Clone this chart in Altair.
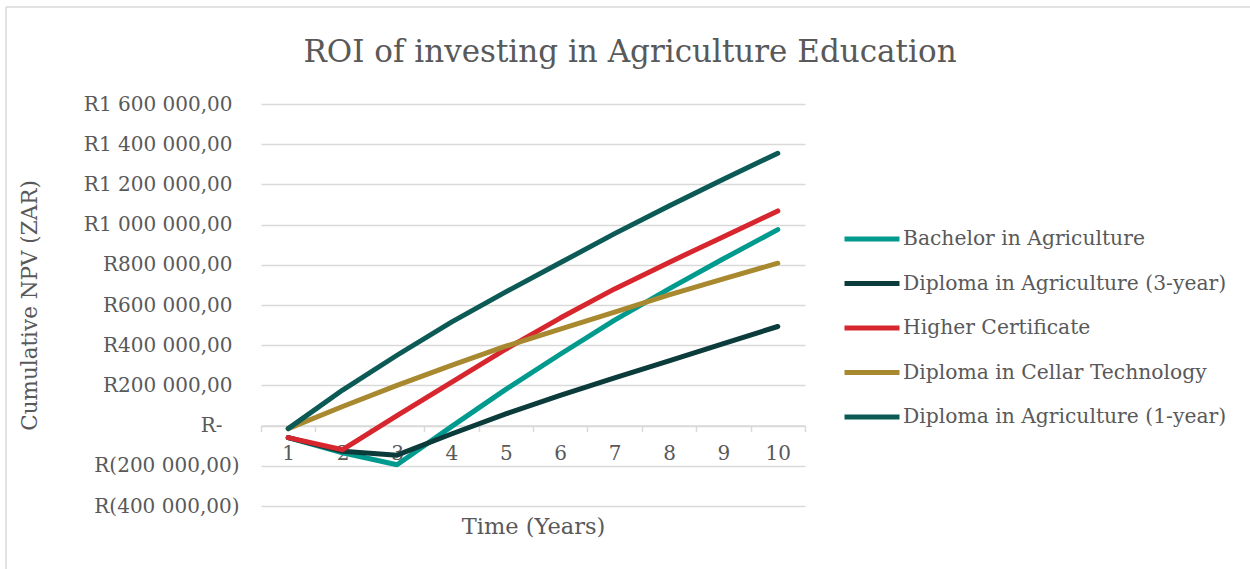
import altair as alt
import pandas as pd

years = list(range(1, 11))
series_names = [
    "Bachelor in Agriculture",
    "Diploma in Agriculture (3-year)",
    "Higher Certificate",
    "Diploma in Cellar Technology",
    "Diploma in Agriculture (1-year)",
]
series_colors = ["#009A8E", "#0B3B3A", "#D7262E", "#A8892F", "#0B5A55"]

bachelor = [-60000, -135000, -195000, -5000, 180000, 355000, 525000, 680000, 830000, 975000]
diploma_3yr = [-60000, -128000, -147000, -42000, 58000, 150000, 237000, 322000, 408000, 493000]
higher_cert = [-60000, -120000, 50000, 215000, 380000, 535000, 680000, 812000, 940000, 1068000]
cellar_tech = [-15000, 95000, 200000, 300000, 395000, 480000, 565000, 650000, 730000, 808000]
diploma_1yr = [-15000, 177000, 350000, 515000, 665000, 810000, 955000, 1093000, 1226000, 1355000]

y_ticks = [-400000, -200000, 0, 200000, 400000, 600000, 800000, 1000000, 1200000, 1400000, 1600000]

series_values = [bachelor, diploma_3yr, higher_cert, cellar_tech, diploma_1yr]
rows = []
for name, vals in zip(series_names, series_values):
    for yr, v in zip(years, vals):
        rows.append({"Year": yr, "Series": name, "NPV": v})
df = pd.DataFrame(rows)

GREY = "#595959"
GRID = "#d9d9d9"
FONT = "DejaVu Serif"

fmt = "replace(replace(format({v}, ',.2f'), regexp(',', 'g'), ' '), '.', ',')"
label_expr = (
    "datum.value == 0 ? 'R-' : (datum.value < 0 ? 'R(' + "
    + fmt.format(v="-datum.value")
    + " + ')' : 'R' + "
    + fmt.format(v="datum.value")
    + ")"
)

W, H = 544, 402
zero_offset = -(H - H * 1600000 / 2000000)

x_axis = alt.Axis(
    title="Time (Years)", labelAngle=0, labelFontSize=20, labelColor=GREY,
    labelFont=FONT, tickColor=GRID, tickSize=6, tickWidth=1.5, tickBand="extent",
    domainColor=GRID, domainWidth=1.5, grid=False, labelPadding=12,
    offset=zero_offset, titleFontSize=22.5, titleColor=GREY, titleFont=FONT,
    titleFontWeight="normal", titleY=101, titleBaseline="middle",
)
y_axis = alt.Axis(
    values=y_ticks, labelExpr=label_expr, labelFontSize=20, labelColor=GREY,
    labelFont=FONT, ticks=False, domain=False, grid=True,
    labelPadding={"condition": [{"test": "datum.value > 0", "value": 29},
                                {"test": "datum.value == 0", "value": 39}],
                  "value": 22},
    gridColor=GRID, gridWidth=1.5, title="Cumulative NPV (ZAR)", titleFontSize=21.5,
    titleColor=GREY, titleFont=FONT, titleFontWeight="normal", titleX=-231,
    titleY=201, titleBaseline="middle", titleAlign="center",
)
legend = alt.Legend(
    orient="none", legendX=581, legendY=105, title=None, labelFontSize=20.3,
    labelColor=GREY, labelFont=FONT, labelLimit=0, symbolType="stroke", symbolSize=3025,
    symbolStrokeWidth=5, rowPadding=3.5, labelOffset=1,
)

base = alt.Chart(df)

layers = []
for name in series_names:
    layer = base.transform_filter(alt.datum.Series == name).mark_line(
        strokeWidth=5, strokeCap="round", strokeJoin="round"
    ).encode(
        x=alt.X("Year:O", scale=alt.Scale(type="band", paddingInner=0, paddingOuter=0),
                bandPosition=0.5, axis=x_axis),
        y=alt.Y("NPV:Q", scale=alt.Scale(domain=[-400000, 1600000], nice=False, zero=False),
                axis=y_axis),
        color=alt.Color("Series:N", scale=alt.Scale(domain=series_names, range=series_colors),
                        legend=legend),
    )
    layers.append(layer)

# chart-area frame (light grey border at the top and left edges)
frame_top = alt.Chart(pd.DataFrame({"k": [0]})).mark_rule(color=GRID, strokeWidth=1.5).encode(
    x=alt.value(-255), x2=alt.value(989), y=alt.value(-97)
)
frame_left = alt.Chart(pd.DataFrame({"k": [0]})).mark_rule(color=GRID, strokeWidth=1.5).encode(
    x=alt.value(-255), y=alt.value(-97), y2=alt.value(465)
)

chart = alt.layer(frame_top, frame_left, *layers).properties(
    width=W, height=H,
    autosize=alt.AutoSizeParams(type="none"),
    padding={"left": 261, "top": 104, "right": 445, "bottom": 63},
    background="white",
    title=alt.TitleParams(
        "ROI of investing in Agriculture Education", fontSize=31, font=FONT,
        color=GREY, fontWeight="normal", anchor="middle", dx=97, offset=-63,
    ),
).configure(font=FONT).configure_view(stroke=None)

chart.save("out.html", embed_options={"renderer": "svg", "actions": False})
